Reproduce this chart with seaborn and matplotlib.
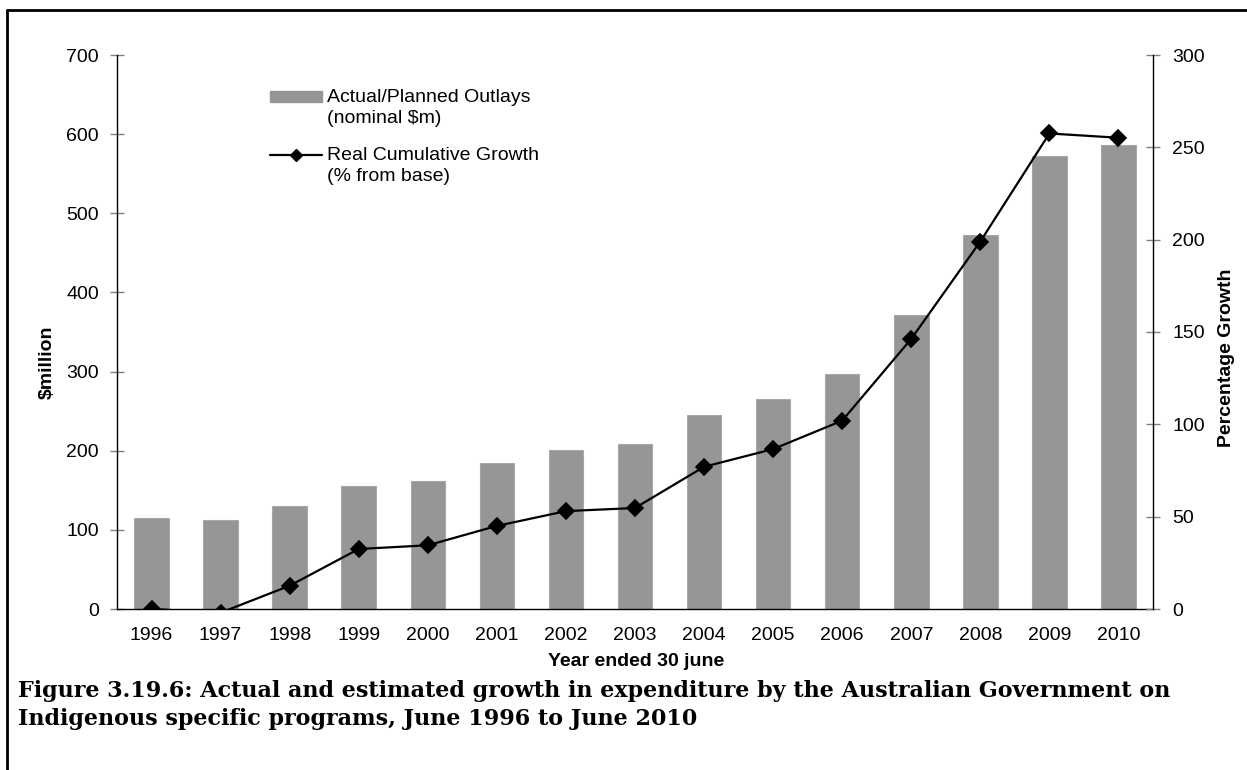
import matplotlib
matplotlib.use("Agg")
import matplotlib.pyplot as plt
import seaborn as sns
import numpy as np
import pandas as pd
from matplotlib.patches import Patch, Rectangle
from matplotlib.lines import Line2D
from matplotlib.legend_handler import HandlerLine2D, HandlerPatch

years = ["1996", "1997", "1998", "1999", "2000", "2001", "2002", "2003",
         "2004", "2005", "2006", "2007", "2008", "2009", "2010"]
outlays = [115, 112, 130, 155, 162, 185, 201, 209, 245, 265, 297, 371, 472, 572, 586]
growth = [0, -2, 12.6, 32.5, 34.5, 45, 53, 54.7, 77, 86.6, 102, 146.3, 199, 257.5, 255.2]

left_ticks = [0, 100, 200, 300, 400, 500, 600, 700]
right_ticks = [0, 50, 100, 150, 200, 250, 300]

sns.set_style("white")
plt.rcParams["font.family"] = ["Liberation Sans", "DejaVu Sans"]
plt.rcParams["text.color"] = "black"
plt.rcParams["axes.labelcolor"] = "black"
plt.rcParams["xtick.color"] = "black"
plt.rcParams["ytick.color"] = "black"

df = pd.DataFrame({"year": years, "outlays": outlays, "growth": growth})

FS = 14

fig = plt.figure(figsize=(12.47, 7.70), dpi=100)
ax = fig.add_axes([117 / 1247, 1 - 609 / 770, (1153 - 117) / 1247, (609 - 55) / 770])

bar_color = "#969696"
sns.barplot(data=df, x="year", y="outlays", ax=ax, color=bar_color,
            width=0.5, saturation=1, edgecolor="#a8a8a8", linewidth=0.8, zorder=2)

ax2 = ax.twinx()
sns.pointplot(data=df, x="year", y="growth", ax=ax2, color="black",
              markers="D", markersize=8, linewidth=1.6, errorbar=None)

ax.set_xlim(-0.5, len(years) - 0.5)
ax.set_ylim(0, 700)
ax2.set_ylim(0, 300)
ax.set_yticks(left_ticks)
ax2.set_yticks(right_ticks)

# x ticks: labels at centres, tick marks between categories
ax.set_xticks(range(len(years)))
ax.set_xticklabels(years)
ax.set_xticks([i - 0.5 for i in range(len(years) + 1)], minor=True)
ax.tick_params(axis="x", which="major", length=0, pad=13, labelsize=FS,
               labelcolor="black")
ax.tick_params(axis="x", which="minor", length=10, width=1, color="#404040",
               direction="inout")
ax.tick_params(axis="y", which="major", length=10, width=1, color="#808080",
               direction="inout", labelsize=FS, pad=8, labelcolor="black")
ax2.tick_params(axis="y", which="major", length=10, width=1, color="#808080",
                direction="inout", labelsize=FS, pad=9, labelcolor="black")

for a in (ax, ax2):
    a.spines["top"].set_visible(False)
    for s in ("left", "right", "bottom"):
        a.spines[s].set_color("black")
        a.spines[s].set_linewidth(1)
ax.spines["right"].set_visible(False)
ax2.spines["left"].set_visible(False)
ax2.spines["bottom"].set_visible(False)

ax.set_xlabel("Year ended 30 june", fontsize=FS, fontweight="bold")
ax.set_ylabel("$million", fontsize=FS, fontweight="bold")
ax2.set_ylabel("Percentage Growth", fontsize=FS, fontweight="bold")
ax.xaxis.set_label_coords(0.501, -0.080)
ax.yaxis.set_label_coords(-0.059, 0.446)
ax2.yaxis.set_label_coords(1.0628, 0.453)
ax2.grid(False)
ax.grid(False)

SHIFT = 8.0  # points: align handle with first text line


class ShiftedLine(HandlerLine2D):
    def create_artists(self, legend, orig_handle, xdescent, ydescent, width,
                       height, fontsize, trans):
        arts = super().create_artists(legend, orig_handle, xdescent, ydescent,
                                      width, height, fontsize, trans)
        for a in arts:
            a.set_ydata(np.asarray(a.get_ydata(), dtype=float) + SHIFT)
        return arts


def shifted_patch(legend, orig_handle, xdescent, ydescent, width, height, fontsize):
    return Rectangle((-xdescent, -ydescent + SHIFT + height * 0.1),
                     width, height * 0.8)


handles = [
    Patch(facecolor=bar_color, edgecolor=bar_color),
    Line2D([0], [0], color="black", linewidth=1.6, marker="D", markersize=6),
]
labels = ["Actual/Planned Outlays\n(nominal $m)", "Real Cumulative Growth\n(% from base)"]
leg = ax2.legend(handles, labels, loc="upper left", bbox_to_anchor=(0.140, 0.953),
                 frameon=False, fontsize=FS, handlelength=2.7, handletextpad=0.25,
                 labelspacing=1.0, borderaxespad=0,
                 handler_map={Line2D: ShiftedLine(),
                              Patch: HandlerPatch(patch_func=shifted_patch)})
for t in leg.get_texts():
    t.set_linespacing(1.35)

serif = ["DejaVu Serif", "Liberation Serif"]
fig.text(18 / 1247, 1 - 691 / 770,
         "Figure 3.19.6: Actual and estimated growth in expenditure by the Australian Government on",
         family=serif, fontweight="bold", fontsize=16, va="center", color="black")
fig.text(18 / 1247, 1 - 719 / 770,
         "Indigenous specific programs, June 1996 to June 2010",
         family=serif, fontweight="bold", fontsize=16, va="center", color="black")

# outer frame (top and left edges)
fig.add_artist(Line2D([7 / 1247, 1], [1 - 10 / 770, 1 - 10 / 770],
                      transform=fig.transFigure, color="black", linewidth=2))
fig.add_artist(Line2D([7 / 1247, 7 / 1247], [0, 1 - 10 / 770],
                      transform=fig.transFigure, color="black", linewidth=2))

fig.savefig("out.png", dpi=100)
